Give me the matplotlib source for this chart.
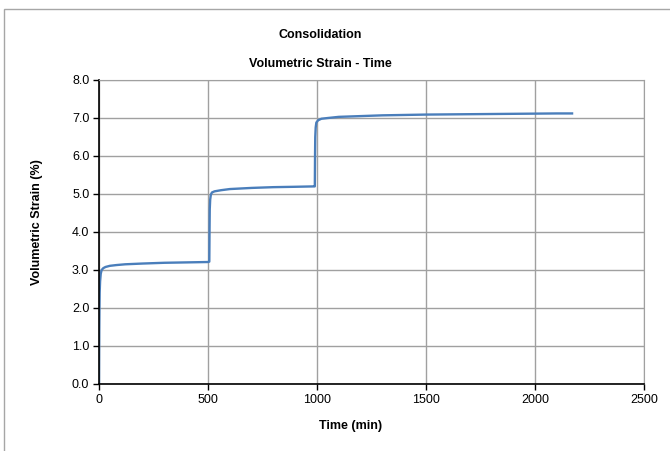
import matplotlib.pyplot as plt
from matplotlib.patches import Rectangle

plt.rcParams['font.family'] = ['Liberation Sans', 'DejaVu Sans']

# === Data (time in min, volumetric strain in %) ===
time_min = [0, 0.5, 1, 2, 3, 5, 8, 12, 20, 30, 50, 80, 120, 200, 300, 400, 500, 506,
            507, 508, 510, 513, 518, 530, 560, 600, 700, 800, 900, 985, 990,
            991, 992, 994, 997, 1005, 1020, 1050, 1100, 1200, 1300, 1500, 1700,
            1900, 2100, 2170]
strain_pct = [0.0, 0.8, 1.4, 2.0, 2.4, 2.7, 2.9, 3.0, 3.05, 3.08, 3.11, 3.13, 3.15,
              3.17, 3.19, 3.20, 3.21, 3.22,
              4.0, 4.6, 4.85, 4.98, 5.04, 5.07, 5.10, 5.13, 5.16, 5.18, 5.19, 5.20, 5.20,
              6.0, 6.5, 6.75, 6.88, 6.94, 6.98, 7.00, 7.03, 7.05, 7.07, 7.09, 7.10,
              7.11, 7.12, 7.12]

x_ticks = [0, 500, 1000, 1500, 2000, 2500]
y_ticks = [0, 1, 2, 3, 4, 5, 6, 7, 8]

W, H = 670, 451
fig = plt.figure(figsize=(W / 100, H / 100), dpi=100)
ax = fig.add_axes([99 / W, 1 - 384 / H, 545 / W, 304 / H])

# outer chart frame (only left/top edges visible in the reference)
fig.patches.append(Rectangle((4 / W, -0.1), 1.2, 1 - 9 / H + 0.1,
                             transform=fig.transFigure, fill=False,
                             edgecolor='#a6a6a6', linewidth=1))

ax.plot(time_min, strain_pct, color='#4a7ebb', linewidth=1.7)

ax.set_xlim(0, 2500)
ax.set_ylim(0, 8)
ax.set_xticks(x_ticks)
ax.set_yticks(y_ticks)
ax.set_yticklabels([f'{v:.1f}' for v in y_ticks])
ax.grid(True, color='#a0a0a0', linewidth=1)
ax.set_axisbelow(True)

for side in ['top', 'right']:
    ax.spines[side].set_color('#a0a0a0')
for side in ['bottom', 'left']:
    ax.spines[side].set_color('black')
    ax.spines[side].set_linewidth(1.2)

ax.tick_params(axis='both', labelsize=9, length=4, width=1, direction='out', pad=3)

# axis labels placed where they sit in the reference
fig.text(351 / W, 1 - 426 / H, 'Time (min)', ha='center', va='center',
         fontsize=9, fontweight='bold')
fig.text(37 / W, 1 - 222 / H, 'Volumetric Strain (%)', ha='center', va='center',
         rotation=90, fontsize=9, fontweight='bold')

fig.text(320 / W, 1 - 35.5 / H, 'Consolidation',
         ha='center', va='center', fontsize=9, fontweight='bold')
fig.text(320 / W, 1 - 64 / H, 'Volumetric Strain - Time',
         ha='center', va='center', fontsize=9, fontweight='bold')

fig.savefig('out.png', dpi=100)
